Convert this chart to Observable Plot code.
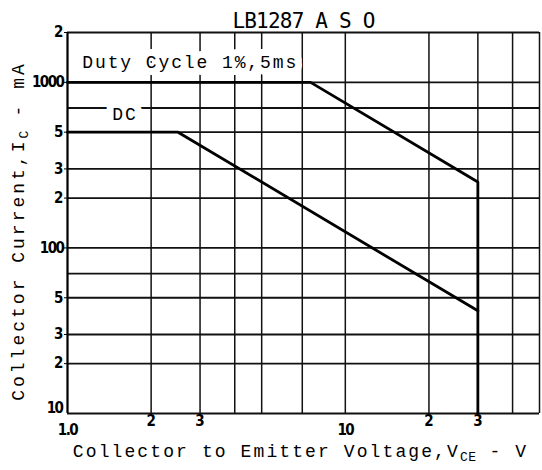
<!DOCTYPE html>
<html><head><meta charset="utf-8">
<script src="https://cdn.jsdelivr.net/npm/d3@7"></script>
<script src="https://cdn.jsdelivr.net/npm/@observablehq/plot@0.6"></script>
<style>body{margin:0;background:#fff}</style>
</head><body><div id="chart"></div>
<script>
const title = "LB1287 A S O";
const xLabel = "Collector to Emitter Voltage,V_CE - V";
const yLabel = "Collector Current,I_C - mA";
const xGrid = [1, 2, 3, 4, 5, 7, 10, 20, 30, 40, 50];
const yGrid = [10, 20, 30, 50, 70, 100, 200, 300, 500, 700, 1000, 2000];
const xTicksNear = [2, 3, 5, 7, 20, 30, 50];
const xTickLabelsNear = ["2", "3", "5", "7", "2", "3", "5"];
const xTicksFar = [1, 10];
const xTickLabelsFar = ["1.0", "10"];
const yTicks = [20, 30, 50, 100, 200, 300, 500, 1000, 2000];
const yTickLabels = ["2", "3", "5", "100", "2", "3", "5", "1000", "2"];
const yTicksLow = [10];
const yTickLabelsLow = ["10"];
const pulseV = [1, 7.5, 30, 30];
const pulseI = [1000, 1000, 250, 10];
const dcV = [1, 2.5, 30];
const dcI = [500, 500, 41.7];
const notes = ["Duty Cycle 1%,5ms", "DC"];
const noteV = [1.13, 1.45];
const noteI = [1317, 640];

const fmt = (ticks, labels) => { const m = new Map(ticks.map((t, i) => [t, labels[i]])); return d => m.get(d); };
const tickFont = "'Liberation Sans Narrow','DejaVu Sans Condensed',sans-serif";
const mono = "'Liberation Mono',monospace";
const pulse = pulseV.map((v, i) => ({v, c: pulseI[i]}));
const dc = dcV.map((v, i) => ({v, c: dcI[i]}));
const noteData = notes.map((t, i) => ({t, v: noteV[i], c: noteI[i]}));

const chart = Plot.plot({
  width: 542, height: 470,
  marginLeft: 67, marginRight: 3, marginTop: 32, marginBottom: 57,
  x: {type: "log", domain: [1, 50]},
  y: {type: "log", domain: [10, 2000]},
  style: {background: "white", color: "black"},
  marks: [
    Plot.ruleX(xGrid, {stroke: "#111", strokeWidth: 1.5}),
    Plot.ruleY(yGrid, {stroke: "#111", strokeWidth: 1.8}),
    Plot.ruleX([xGrid[0]], {stroke: "#000", strokeWidth: 2}),
    Plot.axisY(yTicks, {tickSize: 3, tickPadding: 1, tickFormat: fmt(yTicks, yTickLabels), fontSize: 15, fontWeight: "bold", fontFamily: tickFont, label: null}),
    Plot.axisY(yTicksLow, {tickSize: 0, tickPadding: 5, dy: -5, tickFormat: fmt(yTicksLow, yTickLabelsLow), fontSize: 15, fontWeight: "bold", fontFamily: tickFont, label: null}),
    Plot.axisX(xTicksNear, {tickSize: 0, tickPadding: 2, tickFormat: fmt(xTicksNear, xTickLabelsNear), fontSize: 15, fontWeight: "bold", fontFamily: tickFont, label: null}),
    Plot.axisX(xTicksFar, {tickSize: 0, tickPadding: 11, tickFormat: fmt(xTicksFar, xTickLabelsFar), fontSize: 15, fontWeight: "bold", fontFamily: tickFont, label: null}),
    Plot.text(noteData, {x: "v", y: "c", text: "t", textAnchor: "start", fontSize: 18, fontFamily: mono, fill: "black", stroke: "white", strokeWidth: 14, paintOrder: "stroke"}),
    Plot.line(pulse, {x: "v", y: "c", stroke: "black", strokeWidth: 2.8}),
    Plot.line(dc, {x: "v", y: "c", stroke: "black", strokeWidth: 2.8}),
    Plot.text([title], {text: d => d, frameAnchor: "top", dy: -19, fontSize: 21, fontFamily: "'DejaVu Sans Mono',monospace"}),
    Plot.text([xLabel], {text: d => d, frameAnchor: "bottom", dx: -3, dy: 43, fontSize: 18, fontFamily: mono}),
    Plot.text([yLabel], {text: d => d, frameAnchor: "left", textAnchor: "middle", lineAnchor: "middle", rotate: -90, dx: -49, dy: 8, fontSize: 18, fontFamily: mono})
  ]
});

const spacing = new Map([[title, -0.8], [xLabel, 2.1], [yLabel, 3], [notes[0], 1.9], [notes[1], 1.9]]);
const tickTexts = new Set([...yTickLabels, ...yTickLabelsLow, ...xTickLabelsNear, ...xTickLabelsFar]);
d3.select(chart).selectAll("text").each(function () {
  const t = this.textContent;
  if (spacing.has(t)) d3.select(this).attr("letter-spacing", spacing.get(t));
  else if (tickTexts.has(t) && t.length > 1) d3.select(this).attr("letter-spacing", -1.5);
  const m = t.match(/^(.*?)_([A-Z]+)(.*)$/);
  if (!m) return;
  const sel = d3.select(this);
  sel.text(null);
  sel.append("tspan").text(m[1]);
  sel.append("tspan").attr("font-size", 13).attr("dy", 4).attr("letter-spacing", 0.5).text(m[2]);
  sel.append("tspan").attr("dy", -4).text(m[3]);
});
document.getElementById("chart").append(chart);
</script>
</body></html>
